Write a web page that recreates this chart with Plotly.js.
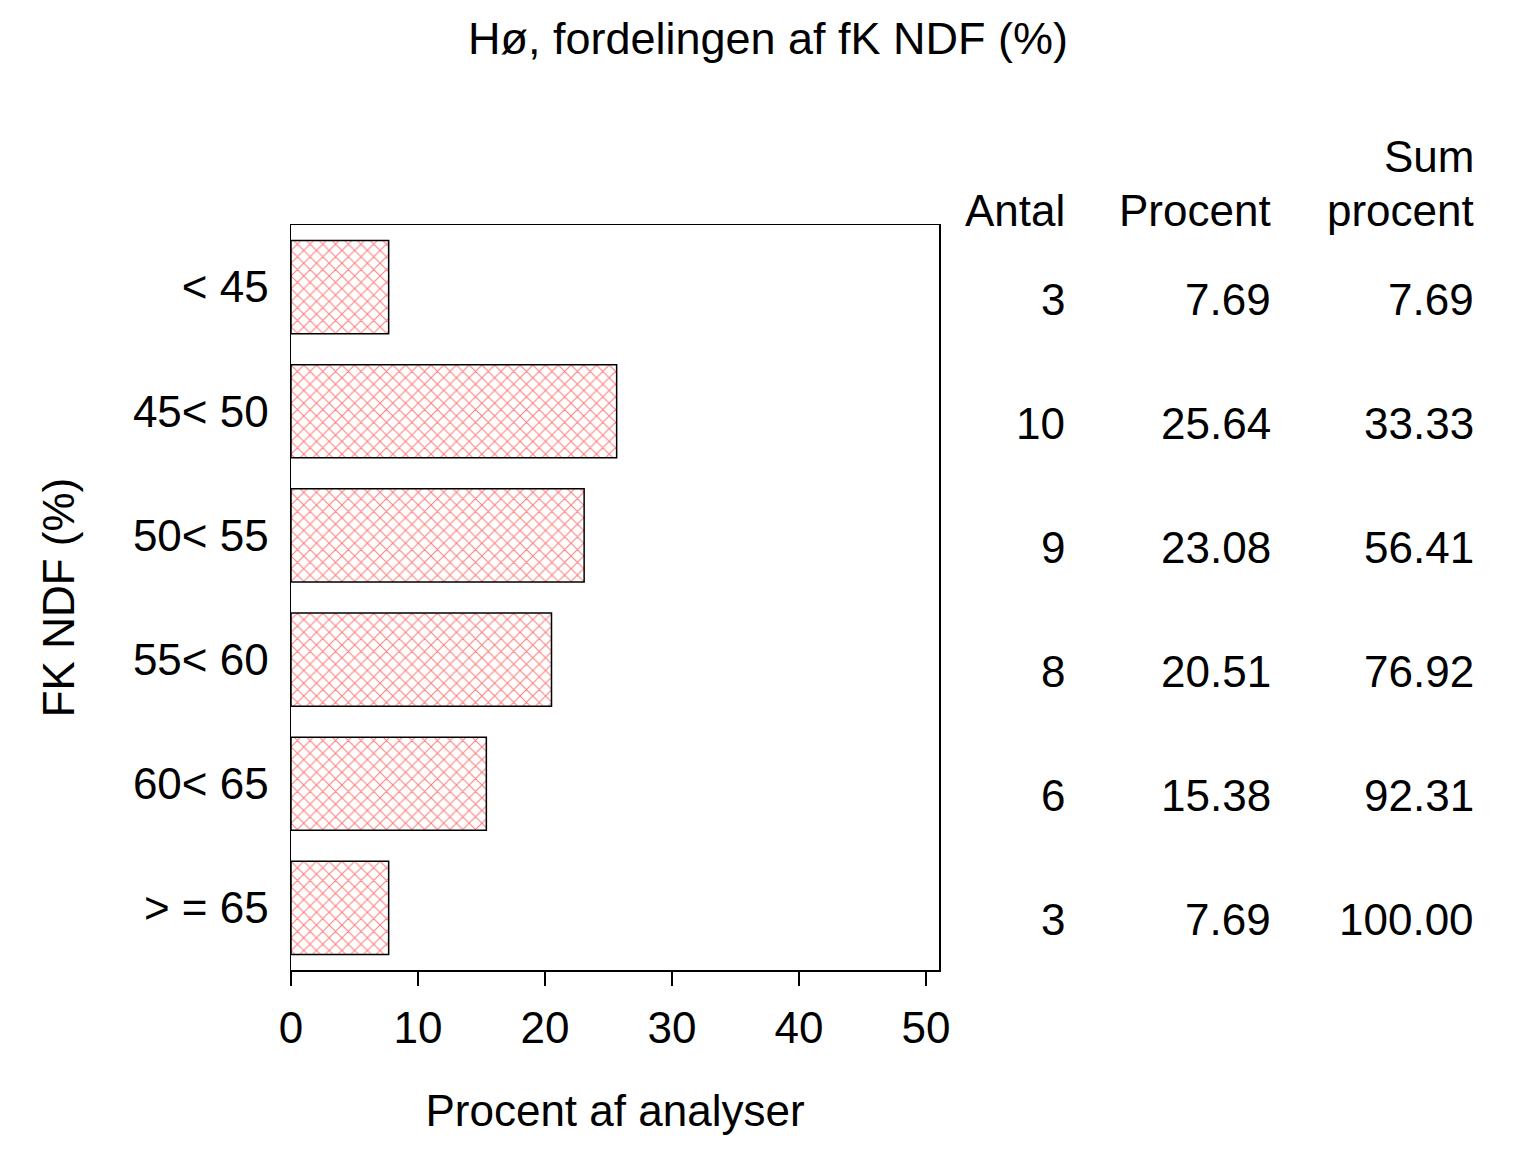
<!DOCTYPE html>
<html>
<head>
<meta charset="utf-8">
<script src="https://cdn.plot.ly/plotly-3.0.1.min.js"></script>
<style>
  body { margin: 0; background: #fff; }
  #chart { width: 1536px; height: 1152px; }
</style>
</head>
<body>
<div id="chart"></div>
<script>
// FK NDF classes, counts and shares
const classes = ['< 45', '45< 50', '50< 55', '55< 60', '60< 65', '> = 65'];
const antal = [3, 10, 9, 8, 6, 3];
const procent = [7.69, 25.64, 23.08, 20.51, 15.38, 7.69];
const sumProcent = ['7.69', '33.33', '56.41', '76.92', '92.31', '100.00'];
const xTicks = [0, 10, 20, 30, 40, 50];

const FONT = 'Liberation Sans, Arial, sans-serif';
const FS = 44;

const bars = {
  type: 'bar',
  orientation: 'h',
  x: procent,
  y: classes,
  marker: {
    color: '#ffffff',
    line: { color: '#000000', width: 1.5 },
    pattern: { shape: 'x', fgcolor: '#ff0000', bgcolor: '#ffffff', size: 9, solidity: 0.22, fillmode: 'overlay' }
  },
  hoverinfo: 'x+y',
  showlegend: false
};

// table columns at the right of the plot (paper x, right aligned)
const colX = [1.198, 1.516, 1.829];
const annotations = [];
const addText = (text, x, y, yref, yshift) => annotations.push({
  text: text, x: x, y: y, xref: 'paper', yref: yref, yshift: yshift || 0,
  xanchor: 'right', yanchor: 'middle', showarrow: false,
  font: { family: FONT, size: FS, color: '#000' }
});

addText('Sum', colX[2], 1.0913, 'paper');
addText('Antal', colX[0], 1.0188, 'paper');
addText('Procent', colX[1], 1.0188, 'paper');
addText('procent', colX[2], 1.0188, 'paper');

classes.forEach((c, i) => {
  addText(String(antal[i]), colX[0], c, 'y', -12);
  addText(procent[i].toFixed(2), colX[1], c, 'y', -12);
  addText(sumProcent[i], colX[2], c, 'y', -12);
});

const layout = {
  width: 1536,
  height: 1152,
  paper_bgcolor: '#fff',
  plot_bgcolor: '#fff',
  font: { family: FONT, size: FS, color: '#000' },
  margin: { l: 291, r: 597, t: 225, b: 182 },
  title: {
    text: 'Hø, fordelingen af fK NDF (%)',
    x: 0.5, xanchor: 'center', y: 0.967, yanchor: 'middle',
    font: { family: FONT, size: 45, color: '#000' }
  },
  bargap: 0.25,
  xaxis: {
    range: [0, 51.02],
    tickvals: xTicks,
    ticktext: xTicks.map(String),
    ticks: 'outside',
    ticklen: 14,
    tickwidth: 1.5,
    tickcolor: '#000',
    showline: true,
    linecolor: '#000',
    linewidth: 1.5,
    mirror: true,
    showgrid: false,
    zeroline: false,
    ticklabelstandoff: 5,
    title: { text: 'Procent af analyser', standoff: 44, font: { family: FONT, size: FS } }
  },
  yaxis: {
    type: 'category',
    categoryorder: 'array',
    categoryarray: classes,
    range: [5.5, -0.5],
    ticks: '',
    showline: true,
    linecolor: '#000',
    linewidth: 1.5,
    mirror: true,
    showgrid: false,
    zeroline: false,
    ticklabelstandoff: 12,
    title: { text: 'FK NDF (%)', standoff: 44, font: { family: FONT, size: FS } }
  },
  annotations: annotations
};

Plotly.newPlot('chart', [bars], layout, { displayModeBar: false, staticPlot: true });
</script>
</body>
</html>
